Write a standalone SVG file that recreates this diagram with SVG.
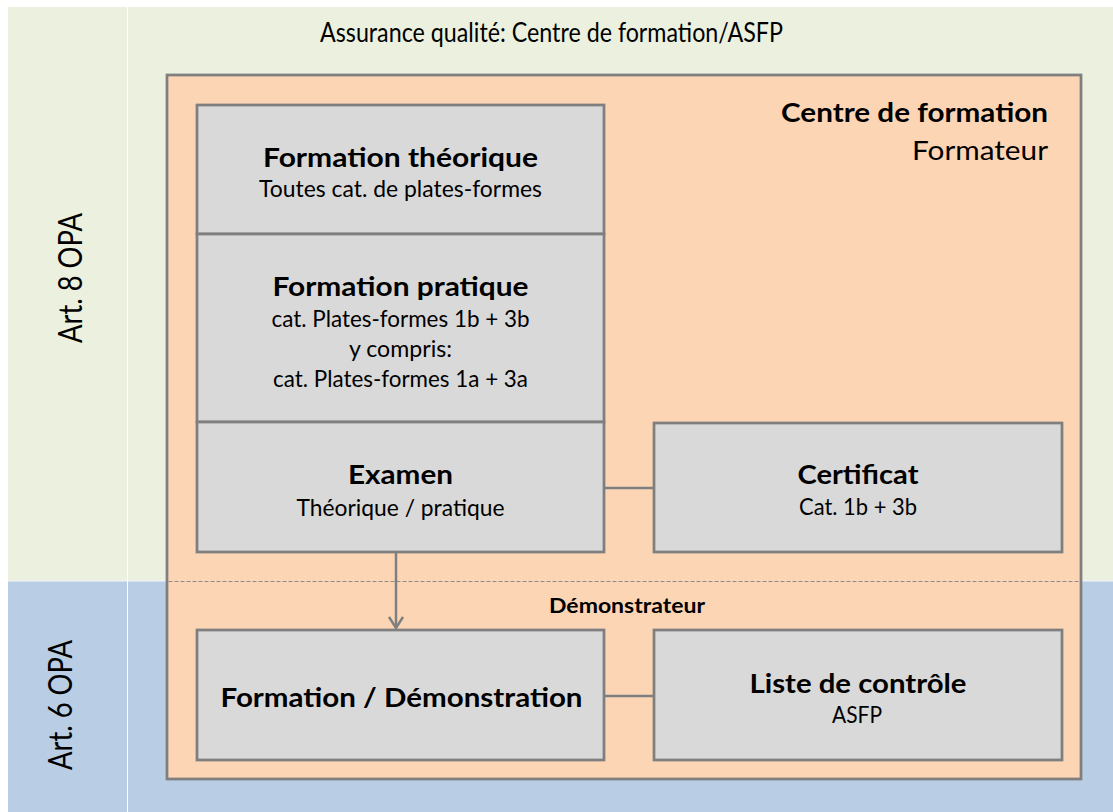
<svg xmlns="http://www.w3.org/2000/svg" width="1113" height="812" viewBox="0 0 1113 812">
<style>
  .box { fill: #D9D9D9; stroke: #7F7F7F; stroke-width: 2.75; }
  .frame { fill: #FCD5B5; stroke: #7F7F7F; stroke-width: 2.75; }
  .conn { stroke: #7F7F7F; stroke-width: 2.5; fill: none; }
  .t { font-family: Lato, "Liberation Sans", sans-serif; fill: #000; }
  .b { font-weight: bold; font-size: 27.5px; text-anchor: middle; }
  .s { font-size: 24px; text-anchor: middle; }
  .side { font-size: 33px; text-anchor: middle; }
</style>
<defs>
  <marker id="arr" viewBox="-13 -9 16 18" refX="0" refY="0" markerWidth="16" markerHeight="18" markerUnits="userSpaceOnUse" orient="auto">
    <path d="M-11,-7 L0,0 L-11,7" fill="none" stroke="#7F7F7F" stroke-width="2.5"/>
  </marker>
</defs>
<rect width="1113" height="812" fill="#FFFFFF"/>
<g id="table">
  <rect x="8" y="7" width="1105" height="574" fill="#EBF1DE"/>
  <rect x="8" y="581" width="1105" height="231" fill="#B9CDE5"/>
  <line x1="127.5" y1="7" x2="127.5" y2="812" stroke="#FFFFFF" stroke-width="1"/>
  <line x1="8" y1="581" x2="1113" y2="581" stroke="#F2F5FA" stroke-width="1"/>
  <text class="t" x="551.5" y="42" font-size="27" text-anchor="middle" textLength="463" lengthAdjust="spacingAndGlyphs">Assurance qualité: Centre de formation/ASFP</text>
  <text class="t side" transform="translate(82,278) rotate(-90)" textLength="130" lengthAdjust="spacingAndGlyphs">Art. 8 OPA</text>
  <text class="t side" transform="translate(72,705) rotate(-90)" textLength="130" lengthAdjust="spacingAndGlyphs">Art. 6 OPA</text>
</g>
<g id="centre">
  <rect class="frame" x="167" y="75" width="914" height="704"/>
  <line x1="168.5" y1="581.5" x2="1079.5" y2="581.5" stroke="#8C8C8C" stroke-width="1" stroke-dasharray="4 2"/>
  <text class="t" x="1048" y="122" font-size="26.5" font-weight="bold" text-anchor="end" textLength="267" lengthAdjust="spacingAndGlyphs">Centre de formation</text>
  <text class="t" x="1048" y="160" font-size="26.5" text-anchor="end" textLength="136" lengthAdjust="spacingAndGlyphs">Formateur</text>
  <text class="t" x="627" y="612.5" font-size="20.5" font-weight="bold" text-anchor="middle" textLength="156" lengthAdjust="spacingAndGlyphs">Démonstrateur</text>
</g>
<g id="connectors">
  <line class="conn" x1="604" y1="488" x2="654" y2="488"/>
  <line class="conn" x1="604" y1="696" x2="654" y2="696"/>
  <line class="conn" x1="396" y1="553" x2="396" y2="628" marker-end="url(#arr)"/>
</g>
<g id="formation-theorique">
  <rect class="box" x="197" y="105" width="407" height="129"/>
  <text class="t b" x="400.5" y="167" textLength="275" lengthAdjust="spacingAndGlyphs">Formation théorique</text>
  <text class="t s" x="400.5" y="197" textLength="283" lengthAdjust="spacingAndGlyphs">Toutes cat. de plates-formes</text>
</g>
<g id="formation-pratique">
  <rect class="box" x="197" y="234" width="407" height="188"/>
  <text class="t b" x="400.5" y="296" textLength="256" lengthAdjust="spacingAndGlyphs">Formation pratique</text>
  <text class="t s" x="400.5" y="326.7" textLength="258" lengthAdjust="spacingAndGlyphs">cat. Plates-formes 1b + 3b</text>
  <text class="t s" x="400.5" y="356.7" textLength="103" lengthAdjust="spacingAndGlyphs">y compris:</text>
  <text class="t s" x="400.5" y="386.7" textLength="255" lengthAdjust="spacingAndGlyphs">cat. Plates-formes 1a + 3a</text>
</g>
<g id="examen">
  <rect class="box" x="197" y="422" width="407" height="130"/>
  <text class="t b" x="400.5" y="484.3" textLength="105" lengthAdjust="spacingAndGlyphs">Examen</text>
  <text class="t s" x="400.5" y="516" textLength="208" lengthAdjust="spacingAndGlyphs">Théorique / pratique</text>
</g>
<g id="certificat">
  <rect class="box" x="654" y="423" width="408" height="129"/>
  <text class="t b" x="858" y="484" textLength="121" lengthAdjust="spacingAndGlyphs">Certificat</text>
  <text class="t s" x="858" y="515" textLength="118" lengthAdjust="spacingAndGlyphs">Cat. 1b + 3b</text>
</g>
<g id="formation-demonstration">
  <rect class="box" x="197" y="630" width="407" height="130"/>
  <text class="t b" x="401.5" y="707.3" textLength="362" lengthAdjust="spacingAndGlyphs">Formation / Démonstration</text>
</g>
<g id="liste-controle">
  <rect class="box" x="654" y="630" width="408" height="130"/>
  <text class="t b" x="858" y="693.3" textLength="217" lengthAdjust="spacingAndGlyphs">Liste de contrôle</text>
  <text class="t s" x="857" y="723.3" textLength="50" lengthAdjust="spacingAndGlyphs">ASFP</text>
</g>
</svg>
